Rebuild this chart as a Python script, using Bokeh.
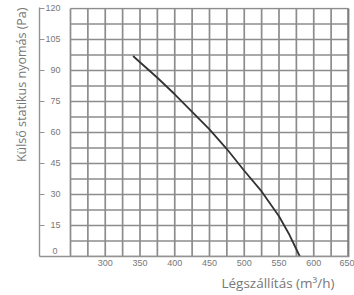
import numpy as np
from bokeh.plotting import figure
from bokeh.models import FixedTicker, Range1d, Title
from bokeh.core.properties import value
from bokeh.embed import file_html
from bokeh.resources import INLINE

# ---- data ----
flow = [340, 350, 375, 400, 425, 450, 475, 500, 525, 550, 565, 580]
pressure = [97, 94, 86.5, 78.5, 70, 61.5, 52, 41.5, 31.5, 19.5, 10.5, 0]
x_ticks = [300, 350, 400, 450, 500, 550, 600, 650]
y_ticks = [0, 15, 30, 45, 60, 75, 90, 105, 120]
x_title = "Légszállítás (m³/h)"
y_title = "Külső statikus nyomás (Pa)"

GRID_X0, GRID_X1, GRID_DX = 250, 650, 25
GRID_Y0, GRID_Y1, GRID_DY = 0, 120, 7.5

X_START, X_END = 205.4, 651.44
Y_START, Y_END = 0, 120.48

GRID_COL = "#8c8c8c"
AXIS_COL = "#939393"
TEXT_COL = "#777777"

p = figure(width=354, height=295, output_backend="svg", toolbar_location=None,
           x_range=Range1d(X_START, X_END), y_range=Range1d(Y_START, Y_END),
           min_border_left=39, min_border_right=5, min_border_top=7,
           min_border_bottom=39)
p.outline_line_color = None
p.xgrid.visible = False
p.ygrid.visible = False
p.background_fill_color = "white"
p.border_fill_color = "white"

# grid (only over the data area)
vx = np.arange(GRID_X0, GRID_X1 + 1, GRID_DX)
hy = np.arange(GRID_Y0, GRID_Y1 + 0.1, GRID_DY)
p.segment(x0=vx[:-1], y0=GRID_Y0, x1=vx[:-1], y1=GRID_Y1,
          line_color=GRID_COL, line_width=1.7)
p.segment(x0=GRID_X0, y0=hy, x1=GRID_X1, y1=hy,
          line_color=GRID_COL, line_width=1.7)
p.segment(x0=[GRID_X1], y0=GRID_Y0, x1=[GRID_X1], y1=GRID_Y1,
          line_color="#7e7e7e", line_width=2.6)

# curve
p.line(flow, pressure, line_color="#333333", line_width=1.8)

# y axis: line, inward ticks, labels placed inside (negative standoff)
yax = p.yaxis[0]
yax.ticker = FixedTicker(ticks=y_ticks[1:])
yax.major_tick_in = 5
yax.major_tick_out = 0
yax.minor_tick_line_color = None
yax.major_tick_line_color = AXIS_COL
yax.major_tick_line_width = 1.2
yax.axis_line_color = AXIS_COL
yax.axis_line_width = 1.4
yax.major_label_standoff = -21
yax.major_label_text_font = "Liberation Sans"
yax.major_label_text_font_size = "9px"
yax.major_label_text_color = TEXT_COL

# the "0" label sits just above the base line
label_x = (X_START + GRID_X0) / 2
p.text(x=[label_x], y=y_ticks[:1], text=[str(y_ticks[0])], y_offset=-6,
       text_align="center", text_baseline="middle",
       text_font=value("Liberation Sans"), text_font_size="9px",
       text_color=TEXT_COL)

# x axis
xax = p.xaxis[0]
xax.ticker = FixedTicker(ticks=x_ticks)
xax.major_tick_in = 0
xax.major_tick_out = 0
xax.minor_tick_line_color = None
xax.axis_line_color = AXIS_COL
xax.axis_line_width = 1.4
xax.major_label_standoff = 3
xax.major_label_text_font = "Liberation Sans"
xax.major_label_text_font_size = "9px"
xax.major_label_text_color = TEXT_COL

# titles
tl = Title(text=y_title, align="right", text_font="Open Sans",
           text_font_size="12.5px", text_font_style="normal",
           text_color=TEXT_COL, standoff=20, offset=0)
p.add_layout(tl, "left")
tb = Title(text=x_title, align="right", text_font="Open Sans",
           text_font_size="13.5px", text_font_style="normal",
           text_color=TEXT_COL, standoff=6, offset=15)
p.add_layout(tb, "below")

open("out.html", "w").write(file_html(p, INLINE))
